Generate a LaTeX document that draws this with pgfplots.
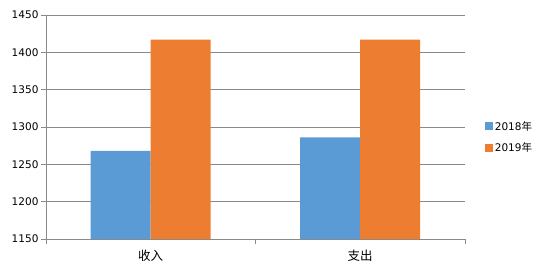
\documentclass[border=0pt]{standalone}
\usepackage{fontspec}
\setmainfont{DejaVu Sans}
\newfontfamily\cjk{Noto Sans CJK SC}
\usepackage{pgfplots}
\pgfplotsset{compat=1.18}
\definecolor{cblue}{HTML}{5B9BD5}
\definecolor{corange}{HTML}{ED7D31}
\definecolor{cgrid}{HTML}{898989}
\begin{document}
\begin{tikzpicture}[x=1pt,y=1pt]
\path[use as bounding box] (-46pt,-35pt) rectangle (504pt,239pt);
\begin{axis}[
  at={(0,0)}, anchor=south west,
  scale only axis, width=419pt, height=224pt,
  ybar=0pt, bar width=60pt,
  xmin=-0.5, xmax=1.5, ymin=1150, ymax=1450,
  ytick={1150,1200,...,1450},
  xtick={0,1}, xticklabels={{\cjk 收入},{\cjk 支出}},
  x tick label style={font=\fontsize{12.5}{12.5}\selectfont, yshift=-2pt},
  y tick label style={font=\fontsize{10.5}{10.5}\selectfont, xshift=1pt},
  /pgf/number format/assume math mode=true,
  /pgf/number format/1000 sep={},
  axis x line*=bottom, axis y line*=left,
  axis line style={cgrid, line width=0.8pt},
  major x tick style={draw=none},
  major y tick style={cgrid, line width=0.8pt},
  tick align=outside, major tick length=5pt,
  extra x ticks={-0.5,0.5,1.5}, extra x tick labels={},
  extra x tick style={major x tick style={draw=cgrid, line width=0.8pt}, grid=none},
  ymajorgrids, grid style={cgrid, line width=0.8pt},
  legend style={draw=none, fill=none, at={(1.047,0.455)}, anchor=west,
    font=\fontsize{10.5}{10.5}\selectfont, row sep=7pt, inner sep=0pt},
  legend image code/.code={\fill[#1] (0pt,-4pt) rectangle (8pt,4pt);},
  legend cell align=left,
]
\addplot[fill=cblue, draw=none] coordinates {(0,1268) (1,1286)};
\addplot[fill=corange, draw=none] coordinates {(0,1417) (1,1417)};
\legend{2018{\cjk 年},2019{\cjk 年}}
\end{axis}
\end{tikzpicture}
\end{document}
